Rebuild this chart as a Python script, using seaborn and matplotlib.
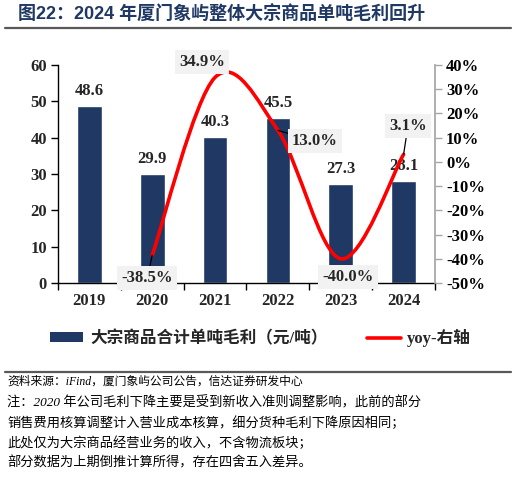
import numpy as np
import matplotlib
matplotlib.use("Agg")
import matplotlib.pyplot as plt
import seaborn as sns
from matplotlib.path import Path
from matplotlib.patches import PathPatch, Patch
from matplotlib.lines import Line2D
from matplotlib.ticker import FuncFormatter

# data
years = ["2019", "2020", "2021", "2022", "2023", "2024"]
profit = [48.6, 29.9, 40.3, 45.5, 27.3, 28.1]
yoy_years = ["2020", "2021", "2022", "2023", "2024"]
yoy = [-38.5, 34.9, 13.0, -40.0, 3.1]
yoy_labels = ["-38.5%", "34.9%", "13.0%", "-40.0%", "3.1%"]

title = "图22：2024 年厦门象屿整体大宗商品单吨毛利回升"
bar_name = "大宗商品合计单吨毛利（元/吨）"
line_name = "yoy-右轴"
notes = [
    "资料来源：iFind，厦门象屿公司公告，信达证券研发中心",
    "注：2020 年公司毛利下降主要是受到新收入准则调整影响，此前的部分",
    "销售费用核算调整计入营业成本核算，细分货种毛利下降原因相同；",
    "此处仅为大宗商品经营业务的收入，不含物流板块；",
    "部分数据为上期倒推计算所得，存在四舍五入差异。",
]

# where the yoy label boxes sit (category x, percent y) and whether a leader is drawn
label_pos = [(0.92, -47.9), (1.79, 41.2), (3.59, 8.6), (4.12, -47.5), (5.07, 14.8)]
leader = [True, False, True, False, True]

NAVY = "#1F3864"
SERIF = ["Liberation Serif", "Noto Sans CJK SC"]
SANS = ["Liberation Sans", "Noto Sans CJK SC"]


def smooth_path(xs, ys):
    # excel-like smoothed line: catmull-rom segments as cubic beziers
    pts = np.column_stack([xs, ys]).astype(float)
    n = len(pts)
    verts = [pts[0]]
    codes = [Path.MOVETO]
    for i in range(n - 1):
        p0 = pts[max(i - 1, 0)]
        p1 = pts[i]
        p2 = pts[i + 1]
        p3 = pts[min(i + 2, n - 1)]
        verts += [p1 + (p2 - p0) / 6, p2 - (p3 - p1) / 6, p2]
        codes += [Path.CURVE4] * 3
    return Path(verts, codes)


sns.set_theme(style="white")
plt.rcParams["font.family"] = SERIF
plt.rcParams["font.weight"] = "bold"

fig = plt.figure(figsize=(5.16, 4.80), dpi=100)
ax = fig.add_axes([58 / 516, 1 - 283 / 480, 377 / 516, 218 / 480])

sns.barplot(x=years, y=profit, color=NAVY, saturation=1, width=0.39, ax=ax)
ax.bar_label(ax.containers[0], fmt="%.1f", padding=5, fontsize=12, fontweight="bold", family=SERIF)

ax.set_xlim(-0.5, len(years) - 0.5)
ax.set_ylim(0, 60)
ax.set_yticks(np.arange(0, 61, 10))
ax.set_xticks(np.arange(-0.5, len(years), 1.0), minor=True)
ax.tick_params(axis="x", which="major", length=0, pad=7, labelsize=12)
ax.tick_params(axis="x", which="minor", length=5, width=1, color="black", direction="out", bottom=True)
ax.tick_params(axis="y", length=5, width=1, color="black", direction="out", left=True, labelsize=12, pad=3)
for lab in ax.get_xticklabels() + ax.get_yticklabels():
    lab.set_fontweight("bold")
ax.spines["top"].set_visible(False)
ax.spines["right"].set_visible(False)
for s in ["left", "bottom"]:
    ax.spines[s].set_color("black")
    ax.spines[s].set_linewidth(1)
ax.set_xlabel("")
ax.set_ylabel("")

ax2 = ax.twinx()
ax2.set_ylim(-50, 40)
ax2.set_yticks(np.arange(-50, 41, 10))
ax2.yaxis.set_major_formatter(FuncFormatter(lambda v, _: f"{v:.0f}%"))
ax2.tick_params(axis="y", length=5, width=1, color="#A6A6A6", direction="out", right=True,
                labelsize=12, labelcolor="black", pad=3)
for lab in ax2.get_yticklabels():
    lab.set_fontweight("bold")
for s in ["top", "left", "bottom"]:
    ax2.spines[s].set_visible(False)
ax2.spines["right"].set_color("#A6A6A6")
ax2.grid(False)

xs = [years.index(y) for y in yoy_years]
ax2.add_patch(PathPatch(smooth_path(xs, yoy), fill=False, edgecolor="#FF0000", lw=2.6,
                        capstyle="round", zorder=3))

for x, v, txt, pos, ld in zip(xs, yoy, yoy_labels, label_pos, leader):
    ax2.annotate(txt, xy=(x, v), xytext=pos, textcoords="data", ha="center", va="center",
                 fontsize=12, fontweight="bold", family=SERIF, annotation_clip=False, zorder=4,
                 bbox=dict(boxstyle="square,pad=0.25", fc="#F2F2F2", ec="none"),
                 arrowprops=dict(arrowstyle="-", color="black", lw=0.9, shrinkA=0, shrinkB=0) if ld else None)

handles = [Patch(facecolor=NAVY, edgecolor="none"), Line2D([0], [0], color="#FF0000", lw=2.6)]
leg = fig.legend(handles, [bar_name, line_name], loc="center", bbox_to_anchor=(0.505, 1 - 338 / 480),
                 ncol=2, frameon=False, handlelength=2.0, handleheight=0.55, handletextpad=0.4,
                 columnspacing=2.4, prop=dict(family=SERIF, size=12, weight="bold"))

fig.text(18 / 516, 1 - 15 / 480, title, family=SANS, fontsize=13, fontweight="bold",
         color=NAVY, ha="left", va="center")
fig.add_artist(Line2D([5 / 516, 511 / 516], [1 - 28 / 480] * 2, color="#595959", lw=1.6))
fig.add_artist(Line2D([5 / 516, 511 / 516], [1 - 372 / 480] * 2, color="#595959", lw=1.6))

note_y = [382, 403, 423, 443, 463]
note_size = [8.5, 9.5, 9.5, 9.5, 9.5]
for txt, y, fs in zip(notes, note_y, note_size):
    fig.text(7 / 516, 1 - y / 480, txt, family=SERIF, style="italic", fontweight="normal",
             fontsize=fs, color="black", ha="left", va="center")

fig.savefig("out.png", dpi=100, facecolor="white")
